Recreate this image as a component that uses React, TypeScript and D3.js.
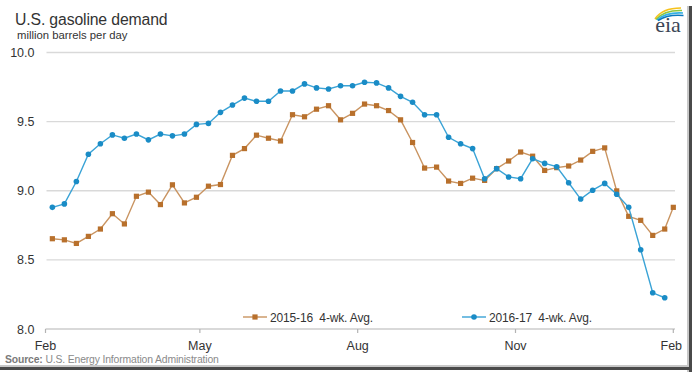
import React, { useEffect, useRef } from 'react';
import * as d3 from 'd3';

// weekly 4-wk avg, million b/d, weeks ending Fri starting early Feb
const demand2016_17 = [
  8.88, 8.905, 9.067, 9.264, 9.34, 9.404, 9.38, 9.41, 9.368, 9.41,
  9.397, 9.41, 9.48, 9.487, 9.567, 9.62, 9.67, 9.647, 9.647, 9.722,
  9.722, 9.773, 9.744, 9.736, 9.76, 9.76, 9.785, 9.78, 9.744, 9.683,
  9.64, 9.55, 9.55, 9.387, 9.34, 9.305, 9.087, 9.16, 9.1, 9.087,
  9.232, 9.198, 9.174, 9.058, 8.94, 9.004, 9.053, 8.975, 8.88, 8.573,
  8.262, 8.226,
];

const demand2015_16 = [
  8.653, 8.645, 8.619, 8.67, 8.723, 8.834, 8.76, 8.96, 8.99, 8.9,
  9.043, 8.912, 8.953, 9.033, 9.045, 9.256, 9.305, 9.402, 9.38, 9.36,
  9.55, 9.535, 9.59, 9.615, 9.513, 9.56, 9.627, 9.615, 9.58, 9.513,
  9.349, 9.164, 9.171, 9.07, 9.053, 9.091, 9.075, 9.16, 9.215, 9.28,
  9.25, 9.147, 9.167, 9.179, 9.222, 9.285, 9.31, 8.999, 8.815, 8.786,
  8.677, 8.723, 8.88,
];

const firstWeek = new Date(2016, 1, 5);
const lastWeek2015_16 = new Date(2017, 1, 1);

const yTicks = [8.0, 8.5, 9.0, 9.5, 10.0];
const xTicks = [new Date(2016, 1, 1), new Date(2016, 4, 1), new Date(2016, 7, 1), new Date(2016, 10, 1), new Date(2017, 1, 1)];
const xTickLabels = ['Feb', 'May', 'Aug', 'Nov', 'Feb'];

const seriesNames = ['2015-16  4-wk. Avg.', '2016-17  4-wk. Avg.'];

const W = 694;
const H = 372;
const FONT = 'Arial, "Liberation Sans", sans-serif';

const ORANGE_LINE = '#c99461';
const ORANGE_MARK = '#b8702c';
const BLUE_LINE = '#3aa3d6';
const BLUE_MARK = '#1a8cc6';

export default function App() {
  const ref = useRef<SVGSVGElement>(null);

  useEffect(() => {
    const svg = d3.select(ref.current);
    svg.selectAll('*').remove();

    const x = d3.scaleTime()
      .domain([xTicks[0], xTicks[4]])
      .range([45.5, 673.3]);
    const y = d3.scaleLinear()
      .domain([8, 10])
      .range([329, 52.5]);

    const weekDate = (i: number) => d3.timeDay.offset(firstWeek, 7 * i);

    const blue = demand2016_17.map((v, i) => ({ d: weekDate(i), v }));
    const orange = demand2015_16.map((v, i) => ({
      d: i < 52 ? weekDate(i) : lastWeek2015_16,
      v,
    }));

    // gridlines
    svg.append('g')
      .selectAll('line')
      .data(yTicks.slice(1))
      .enter()
      .append('line')
      .attr('x1', 46.5)
      .attr('x2', 675)
      .attr('y1', d => y(d))
      .attr('y2', d => y(d))
      .attr('stroke', '#d9d9d9')
      .attr('stroke-width', 1.3);

    // x axis
    svg.append('line')
      .attr('x1', 45.5).attr('x2', 675)
      .attr('y1', y(8)).attr('y2', y(8))
      .attr('stroke', '#b3b3b3').attr('stroke-width', 1.2);

    svg.append('g')
      .selectAll('line')
      .data(xTicks)
      .enter()
      .append('line')
      .attr('x1', d => x(d)).attr('x2', d => x(d))
      .attr('y1', y(8)).attr('y2', y(8) + 4)
      .attr('stroke', '#b3b3b3').attr('stroke-width', 1.2);

    svg.append('g')
      .selectAll('text')
      .data(xTicks)
      .enter()
      .append('text')
      .attr('x', (d, i) => x(d) - (i === 4 ? 2 : 0))
      .attr('y', 350)
      .attr('text-anchor', 'middle')
      .attr('font-family', FONT)
      .attr('font-size', 12.5)
      .attr('fill', '#333')
      .text((d, i) => xTickLabels[i]);

    // y labels
    svg.append('g')
      .selectAll('text')
      .data(yTicks)
      .enter()
      .append('text')
      .attr('x', 34.5)
      .attr('y', d => y(d) + 4.5)
      .attr('text-anchor', 'end')
      .attr('font-family', FONT)
      .attr('font-size', 12.5)
      .attr('fill', '#333')
      .text(d => d.toFixed(1));

    const line = d3.line<{ d: Date; v: number }>()
      .x(p => x(p.d))
      .y(p => y(p.v));

    // 2015-16
    svg.append('path')
      .datum(orange)
      .attr('d', line)
      .attr('fill', 'none')
      .attr('stroke', ORANGE_LINE)
      .attr('stroke-width', 1.4);
    svg.append('g')
      .selectAll('rect')
      .data(orange)
      .enter()
      .append('rect')
      .attr('x', p => x(p.d) - 2.6)
      .attr('y', p => y(p.v) - 2.6)
      .attr('width', 5.2)
      .attr('height', 5.2)
      .attr('fill', ORANGE_MARK);

    // 2016-17
    svg.append('path')
      .datum(blue)
      .attr('d', line)
      .attr('fill', 'none')
      .attr('stroke', BLUE_LINE)
      .attr('stroke-width', 1.4);
    svg.append('g')
      .selectAll('circle')
      .data(blue)
      .enter()
      .append('circle')
      .attr('cx', p => x(p.d))
      .attr('cy', p => y(p.v))
      .attr('r', 2.8)
      .attr('fill', BLUE_MARK);

    // legend
    const legend = [
      { x0: 243, name: seriesNames[0], lc: ORANGE_LINE, mc: ORANGE_MARK, square: true },
      { x0: 462, name: seriesNames[1], lc: BLUE_LINE, mc: BLUE_MARK, square: false },
    ];
    legend.forEach(l => {
      const g = svg.append('g');
      g.append('line')
        .attr('x1', l.x0).attr('x2', l.x0 + 24)
        .attr('y1', 317).attr('y2', 317)
        .attr('stroke', l.lc).attr('stroke-width', 1.4);
      if (l.square) {
        g.append('rect')
          .attr('x', l.x0 + 12 - 2.6).attr('y', 317 - 2.6)
          .attr('width', 5.2).attr('height', 5.2)
          .attr('fill', l.mc);
      } else {
        g.append('circle')
          .attr('cx', l.x0 + 12).attr('cy', 317).attr('r', 2.8)
          .attr('fill', l.mc);
      }
      g.append('text')
        .attr('x', l.x0 + 27)
        .attr('y', 321.5)
        .attr('font-family', FONT)
        .attr('font-size', 12)
        .attr('letter-spacing', -0.15)
        .attr('fill', '#333')
        .style('white-space', 'pre')
        .text(l.name);
    });

    // titles
    svg.append('text')
      .attr('x', 15).attr('y', 24.5)
      .attr('font-family', FONT).attr('font-size', 15.8)
      .attr('letter-spacing', -0.15)
      .attr('fill', '#333')
      .text('U.S. gasoline demand');
    svg.append('text')
      .attr('x', 17).attr('y', 39)
      .attr('font-family', FONT).attr('font-size', 11.3)
      .attr('fill', '#333')
      .text('million barrels per day');

    const src = svg.append('text')
      .attr('x', 5).attr('y', 363)
      .attr('font-family', FONT).attr('font-size', 10.4)
      .attr('letter-spacing', -0.15)
      .attr('fill', '#8a8a8a');
    src.append('tspan').attr('font-weight', 'bold').attr('fill', '#7a7a7a').text('Source:');
    src.append('tspan').text(' U.S. Energy Information Administration');

    // eia logo
    const logo = svg.append('g');
    const arcs = [
      { d: 'M655,19 Q662,8 681,8', c: '#f6c21b' },
      { d: 'M656,19.5 Q664,10 682,10.5', c: '#8cc63f' },
      { d: 'M657,20 Q666,12 683,13', c: '#33b0e3' },
      { d: 'M658,20.5 Q668,14 683.5,15.5', c: '#0a78be' },
    ];
    arcs.forEach(a => {
      logo.append('path')
        .attr('d', a.d)
        .attr('fill', 'none')
        .attr('stroke', a.c)
        .attr('stroke-width', 1.6);
    });
    logo.append('text')
      .attr('x', 668).attr('y', 32)
      .attr('text-anchor', 'middle')
      .attr('font-family', '"Liberation Serif", "DejaVu Serif", serif')
      .attr('font-size', 22)
      .attr('fill', '#3b4656')
      .text('eia');

    // frame shadow
    svg.append('rect').attr('x', 687).attr('y', 6).attr('width', 2).attr('height', 366).attr('fill', '#c8c8c8');
    svg.append('rect').attr('x', 689).attr('y', 6).attr('width', 3).attr('height', 366).attr('fill', '#4a4a4a');
    svg.append('rect').attr('x', 0).attr('y', 365).attr('width', 689).attr('height', 2).attr('fill', '#c8c8c8');
    svg.append('rect').attr('x', 0).attr('y', 367).attr('width', 692).attr('height', 3).attr('fill', '#4a4a4a');
  }, []);

  return (
    <svg
      ref={ref}
      width={W}
      height={H}
      style={{ position: 'absolute', left: 0, top: 0, background: '#fff' }}
    />
  );
}
